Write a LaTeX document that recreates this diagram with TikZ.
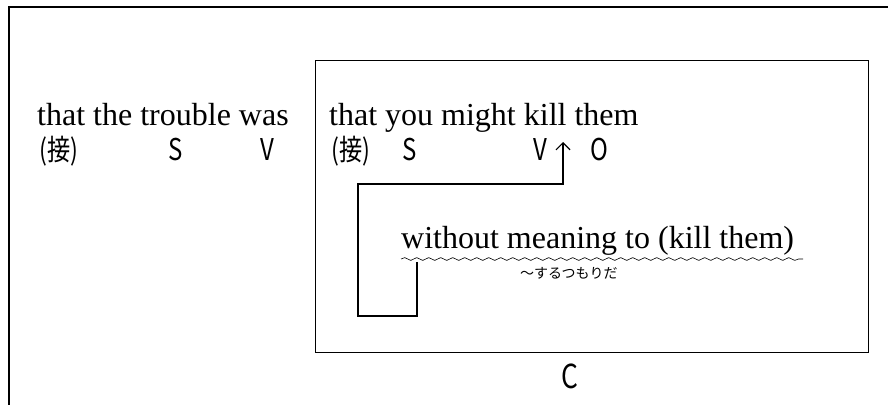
\documentclass[tikz,border=0pt]{standalone}
\usepackage{fontspec}
\usepackage{tikz}
\usetikzlibrary{arrows.meta,calc,decorations.pathmorphing}
\newfontfamily\engfont{Liberation Serif}
\newfontfamily\jpfont{Noto Sans CJK JP}
\newfontfamily\jpnarrow[FakeStretch=0.8]{Noto Sans CJK JP}
\tikzset{
  frame/.style={line width=1.3pt},
  eng/.style={font=\engfont\fontsize{32}{36}\selectfont,inner sep=0pt,anchor=base west},
  tag/.style={font=\jpnarrow\fontsize{30}{32}\selectfont,inner sep=0pt,anchor=base west},
  conj/.style={font=\jpnarrow\fontsize{29}{32}\selectfont,inner sep=0pt,anchor=base west},
  gloss/.style={font=\jpfont\fontsize{14}{16}\selectfont,inner sep=0pt,anchor=base west},
  link/.style={-{Straight Barb[length=7pt,width=14pt]},line width=1.2pt},
  wave/.style={decorate,decoration={snake,amplitude=1.4pt,segment length=12pt},line width=0.6pt}
}
\begin{document}
\begin{tikzpicture}[x=1pt,y=-1pt]
  \useasboundingbox (0,0) rectangle (888,405);
  % outer frame and the clause box
  \draw[frame] (888,7) -- (9,7) -- (9,405);
  \node[frame,draw,anchor=north west,minimum width=553pt,minimum height=292pt] (cbox) at (315,60) {};
  % main clause
  \node[eng] (main) at (37,125) {that the trouble was};
  \node[conj] (conj1) at (39,160) {(接)};
  \node[tag] (subj1) at (168,160) {S};
  \node[tag] (verb1) at (260,160) {V};
  % that-clause
  \node[eng] (sub) at (329,125) {that you might kill them};
  \node[conj] (conj2) at (331,160) {(接)};
  \node[tag] (subj2) at (402,160) {S};
  \node[tag] (verb2) at (533,160) {V};
  \node[tag] (obj2) at (590,160) {O};
  \node[eng] (mod) at (401,248) {without meaning to (kill them)};
  \coordinate (w1) at (401,259);
  \coordinate (w2) at (803,259);
  \draw[wave] (w1) -- (w2);
  \node[gloss] (meaning) at (520,278) {～するつもりだ};
  \node[tag,font=\jpnarrow\fontsize{33}{36}\selectfont,anchor=base] (comp) at (570,388) {C};
  % modifier points back to the verb
  \coordinate (src) at (417,262);
  \coordinate (bl) at (358,316);
  \coordinate (tl) at (358,184);
  \coordinate (tgt) at (563,142);
  \draw[link] (src) |- (bl) -- (tl) -| (tgt);
\end{tikzpicture}
\end{document}
